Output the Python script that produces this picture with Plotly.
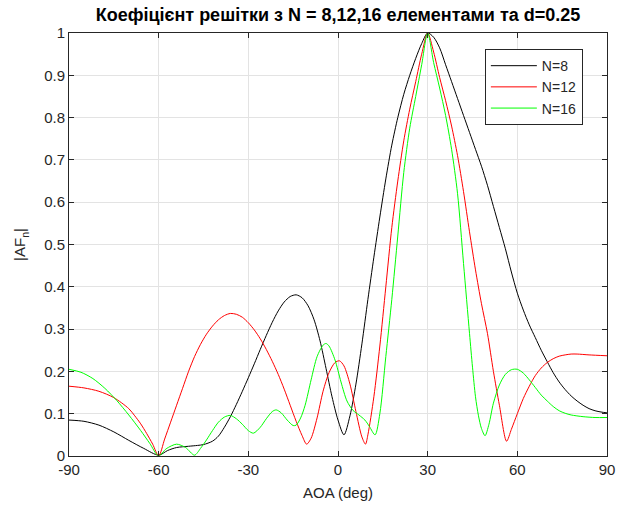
import plotly.graph_objects as go

# ---- data ----
aoa_n8 = [-90, -85, -80, -75, -70, -65, -60, -57, -54, -50, -47, -45, -42, -40, -38, -36,
          -34, -32, -30, -28, -26, -24, -22, -20, -18, -16, -14, -12, -10, -8, -6, -4,
          -2, 0, 2, 4, 6, 8, 10, 12, 14, 16, 18, 20, 22, 24, 26, 28, 30, 32, 34, 36,
          38, 40, 42, 44, 46, 48, 50, 52, 54, 56, 58, 60, 62, 64, 66, 68, 70, 72, 74,
          76, 78, 80, 82, 84, 86, 88, 90]
af_n8 = [0.085, 0.082, 0.073, 0.057, 0.037, 0.018, 0.002, 0.013, 0.020, 0.023, 0.025,
         0.027, 0.035, 0.047, 0.068, 0.093, 0.122, 0.153, 0.185, 0.218, 0.252, 0.285,
         0.316, 0.343, 0.364, 0.377, 0.381, 0.374, 0.355, 0.322, 0.272, 0.207, 0.140,
         0.085, 0.050, 0.095, 0.170, 0.265, 0.370, 0.470, 0.565, 0.655, 0.735, 0.800,
         0.855, 0.900, 0.940, 0.975, 1.000, 0.990, 0.965, 0.925, 0.885, 0.845, 0.805,
         0.765, 0.725, 0.685, 0.640, 0.590, 0.540, 0.490, 0.435, 0.385, 0.345, 0.310,
         0.280, 0.250, 0.223, 0.197, 0.175, 0.157, 0.142, 0.130, 0.120, 0.112, 0.107,
         0.104, 0.102]

aoa_n12 = [-90, -85, -80, -75, -70, -68, -66, -64, -62, -60, -58, -56, -54, -52, -50,
           -48, -46, -44, -42, -40, -38, -36, -34, -32, -30, -28, -26, -24, -22, -20,
           -18, -16, -14, -12, -10.5, -9, -7, -5, -3, -1, 0.5, 2, 4, 6, 8, 9.2, 10, 12,
           14, 16, 18, 20, 22, 24, 26, 28, 30, 32, 34, 36, 38, 40, 42, 44, 46, 48, 50,
           52, 54, 56.4, 58, 60, 62, 64, 66, 68, 70, 72, 74, 76, 78, 80, 84, 90]
af_n12 = [0.165, 0.161, 0.153, 0.138, 0.112, 0.095, 0.076, 0.053, 0.028, 0.000, 0.040,
          0.080, 0.120, 0.160, 0.200, 0.235, 0.264, 0.288, 0.307, 0.322, 0.332, 0.337,
          0.335, 0.328, 0.315, 0.298, 0.277, 0.252, 0.224, 0.193, 0.158, 0.120, 0.082,
          0.048, 0.028, 0.042, 0.090, 0.153, 0.197, 0.221, 0.225, 0.213, 0.170, 0.105,
          0.045, 0.028, 0.050, 0.140, 0.260, 0.400, 0.540, 0.650, 0.745, 0.820, 0.885,
          0.950, 1.000, 0.955, 0.895, 0.840, 0.780, 0.710, 0.625, 0.530, 0.440, 0.360,
          0.290, 0.200, 0.120, 0.035, 0.063, 0.100, 0.136, 0.165, 0.190, 0.208, 0.221,
          0.230, 0.236, 0.239, 0.241, 0.241, 0.239, 0.237]

aoa_n16 = [-90, -86, -82, -78, -74, -70, -66, -63, -60, -57.5, -54, -51, -48, -46, -44,
           -42, -40, -38, -36, -34, -32, -30, -28.3, -26, -24, -22, -20.7, -19, -17,
           -15, -14, -12.5, -11, -9, -7, -5, -4, -3, -1, 1, 3, 5, 7, 9, 10.5, 12.4, 14,
           16, 18, 20, 22, 24, 26, 28, 30, 32, 34, 36, 38, 40, 42, 44, 45, 46, 47, 48,
           49.2, 50.5, 52, 54, 56, 58, 60, 62, 64, 66, 68, 70, 72, 74, 76, 78, 82, 86, 90]
af_n16 = [0.205, 0.198, 0.183, 0.160, 0.131, 0.097, 0.060, 0.030, 0.000, 0.017, 0.028,
          0.020, 0.002, 0.018, 0.038, 0.060, 0.080, 0.092, 0.096, 0.088, 0.075, 0.060,
          0.054, 0.068, 0.088, 0.105, 0.109, 0.102, 0.085, 0.072, 0.073, 0.090, 0.120,
          0.180, 0.235, 0.262, 0.266, 0.260, 0.227, 0.175, 0.130, 0.108, 0.097, 0.085,
          0.070, 0.050, 0.100, 0.235, 0.370, 0.520, 0.670, 0.775, 0.850, 0.925, 1.000,
          0.930, 0.870, 0.805, 0.725, 0.620, 0.455, 0.290, 0.210, 0.140, 0.095, 0.065,
          0.048, 0.075, 0.125, 0.168, 0.193, 0.204, 0.205, 0.196, 0.180, 0.162, 0.144,
          0.130, 0.117, 0.107, 0.101, 0.097, 0.093, 0.091, 0.091]

x_ticks = [-90, -60, -30, 0, 30, 60, 90]
x_tick_labels = ["-90", "-60", "-30", "0", "30", "60", "90"]
y_ticks = [0, 0.1, 0.2, 0.3, 0.4, 0.5, 0.6, 0.7, 0.8, 0.9, 1]
y_tick_labels = ["0", "0.1", "0.2", "0.3", "0.4", "0.5", "0.6", "0.7", "0.8", "0.9", "1"]

series = [
    ("N=8", aoa_n8, af_n8, "#000000"),
    ("N=12", aoa_n12, af_n12, "#ff0000"),
    ("N=16", aoa_n16, af_n16, "#00ff00"),
]

FONT = "Liberation Sans, Arial, Helvetica, sans-serif"
AX = "#262626"
GRID = "#e3e3e3"

fig = go.Figure()
for name, xs, ys, col in series:
    fig.add_trace(go.Scatter(x=xs, y=ys, name=name, mode="lines",
                             line=dict(color=col, width=1, shape="spline", smoothing=0.8)))

fig.update_layout(
    width=619, height=510,
    margin=dict(l=69, r=12, t=33, b=54, autoexpand=False),
    paper_bgcolor="white", plot_bgcolor="white",
    font=dict(family=FONT, size=14, color=AX),
    title=dict(text="<b>Коефіцієнт решітки з N = 8,12,16 елементами та d=0.25</b>",
               x=0.5, xref="paper", xanchor="center", y=0.972, yref="container",
               yanchor="middle", font=dict(family=FONT, size=18, color="#000000")),
    showlegend=True,
    legend=dict(x=0.773, y=0.962, xanchor="left", yanchor="top",
                bgcolor="white", bordercolor=AX, borderwidth=1,
                font=dict(family=FONT, size=14, color=AX),
                tracegroupgap=0, itemwidth=46),
)
fig.update_xaxes(range=[-90, 90], tickvals=x_ticks, ticktext=x_tick_labels,
                 ticks="inside", ticklen=5, automargin=False,
                 tickcolor=AX, showline=True, linecolor=AX, linewidth=1, mirror="allticks",
                 showgrid=True, gridcolor=GRID, gridwidth=1, zeroline=False,
                 tickfont=dict(size=15, color=AX),
                 title=dict(text="AOA (deg)", font=dict(size=15, color=AX), standoff=10))
fig.update_yaxes(range=[0, 1], tickvals=y_ticks, ticktext=y_tick_labels, ticks="inside",
                 ticklen=5, tickcolor=AX, showline=True, linecolor=AX, linewidth=1,
                 mirror="allticks", showgrid=True, gridcolor=GRID, gridwidth=1,
                 zeroline=False, tickfont=dict(size=15, color=AX), automargin=False,
                 title=dict(text="|AF<sub>n</sub>|", font=dict(size=15, color=AX), standoff=14))

fig.write_html("out.html")
